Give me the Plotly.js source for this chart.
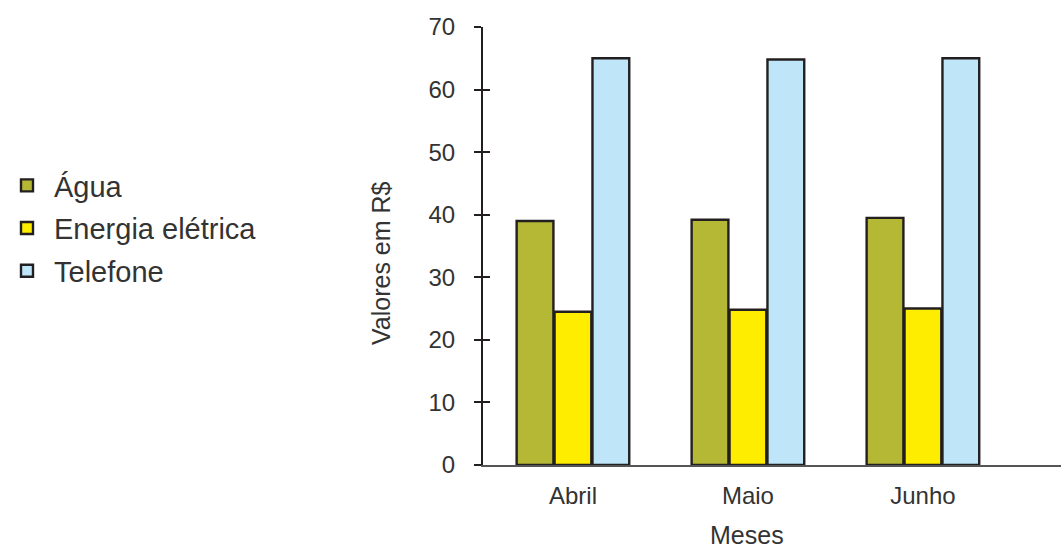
<!DOCTYPE html>
<html>
<head>
<meta charset="utf-8">
<script src="https://cdn.plot.ly/plotly-3.0.1.min.js"></script>
<style>html,body{margin:0;padding:0;background:#fff;}#chart{width:1061px;height:552px;}</style>
</head>
<body>
<div id="chart"></div>
<script>
const months = ["Abril", "Maio", "Junho"];
const agua = [39, 39.2, 39.5];
const energia = [24.5, 24.8, 25];
const telefone = [65, 64.8, 65];
const yTicks = [0, 10, 20, 30, 40, 50, 60, 70];

const seriesNames = ["Água", "Energia elétrica", "Telefone"];
const seriesValues = [agua, energia, telefone];
const seriesColors = ["#b5b835", "#ffed00", "#bee6f8"];

const font = "Liberation Sans, Arial, sans-serif";
const traces = seriesNames.map((n, i) => ({
  type: "bar",
  name: n,
  x: months,
  y: seriesValues[i],
  legendgroup: "g" + i,
  marker: {color: seriesColors[i], line: {color: "#231f20", width: 2.4}},
  hoverinfo: "x+y+name"
}));
// invisible trace to hold the inner tick marks axis
traces.push({type: "scatter", x: [months[0]], y: [0], yaxis: "y2", mode: "markers",
  marker: {opacity: 0}, showlegend: false, hoverinfo: "skip"});

const layout = {
  width: 1061, height: 552,
  margin: {l: 483, r: 0, t: 27, b: 87},
  paper_bgcolor: "#fff", plot_bgcolor: "#fff",
  font: {family: font, color: "#333", size: 20},
  barmode: "group",
  bargap: 0.35,
  bargroupgap: 0.03,
  showlegend: true,
  legend: {
    x: (0 - 483) / 578, y: (465 - 160) / 438, xanchor: "left", yanchor: "top",
    font: {family: font, size: 29, color: "#333"},
    itemwidth: 44,
    traceorder: "grouped", tracegroupgap: 2,
    bgcolor: "rgba(0,0,0,0)"
  },
  xaxis: {
    type: "category",
    range: [-0.514, 2.789],
    showline: true, linecolor: "#555", linewidth: 2,
    ticks: "", showgrid: false, zeroline: false,
    tickfont: {size: 24, color: "#333"},
    ticklabelstandoff: 8,
    fixedrange: true
  },
  yaxis: {
    range: [0, 70],
    tickvals: yTicks,
    ticktext: yTicks.map(String),
    showline: true, linecolor: "#231f20", linewidth: 2,
    ticks: "outside", ticklen: 7, tickwidth: 2, tickcolor: "#231f20",
    showgrid: false, zeroline: false,
    tickfont: {size: 24, color: "#333"},
    ticklabelstandoff: 14,
    fixedrange: true
  },
  yaxis2: {
    overlaying: "y", side: "left",
    range: [0, 70],
    tickvals: yTicks,
    showticklabels: false,
    ticks: "inside", ticklen: 7, tickwidth: 2, tickcolor: "#231f20",
    showline: false, showgrid: false, zeroline: false,
    fixedrange: true
  },
  annotations: [
    {text: "Valores em R$", xref: "paper", yref: "paper",
     x: (381 - 483) / 578, y: (465 - 263) / 438, textangle: -90,
     showarrow: false, font: {family: font, size: 25, color: "#333"},
     xanchor: "center", yanchor: "middle"},
    {text: "Meses", xref: "paper", yref: "paper",
     x: (747 - 483) / 578, y: (465 - 550) / 438,
     showarrow: false, font: {family: font, size: 25, color: "#333"},
     xanchor: "center", yanchor: "bottom", borderpad: 0}
  ]
};

Plotly.newPlot("chart", traces, layout, {displayModeBar: false, staticPlot: true});
</script>
</body>
</html>
